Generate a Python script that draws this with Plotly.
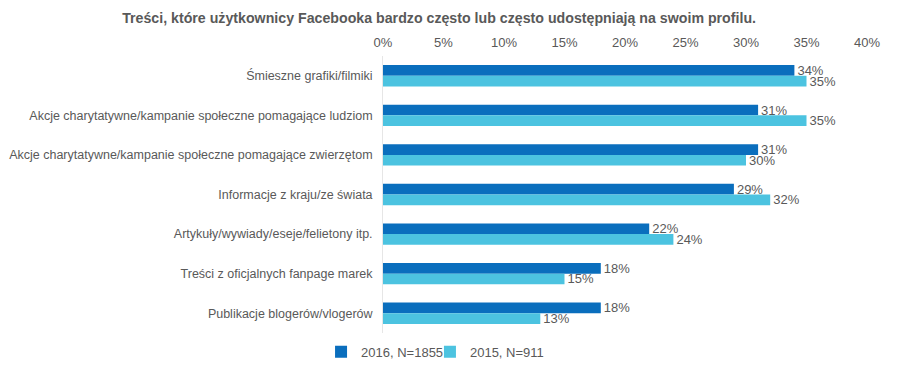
import plotly.graph_objects as go

categories = [
    "Śmieszne grafiki/filmiki",
    "Akcje charytatywne/kampanie społeczne pomagające ludziom",
    "Akcje charytatywne/kampanie społeczne pomagające zwierzętom",
    "Informacje z kraju/ze świata",
    "Artykuły/wywiady/eseje/felietony itp.",
    "Treści z oficjalnych fanpage marek",
    "Publikacje blogerów/vlogerów",
]
values_2016 = [34, 31, 31, 29, 22, 18, 18]
values_2015 = [35, 35, 30, 32, 24, 15, 13]
series_names = ["2016, N=1855", "2015, N=911"]
tick_vals = [0, 5, 10, 15, 20, 25, 30, 35, 40]
tick_text = [f"{v}%" for v in tick_vals]

FONT = "Liberation Sans, Arial, sans-serif"
GRAY = "#595959"

fig = go.Figure()
for name, vals, color, leg in [
    (series_names[0], values_2016, "#0A6EBD", "legend"),
    (series_names[1], values_2015, "#4CC3E0", "legend2"),
]:
    fig.add_trace(go.Bar(
        y=categories, x=vals, name=name, orientation="h",
        marker=dict(color=color, line=dict(width=0)),
        text=[f"{v}%" for v in vals], textposition="outside",
        constraintext="none",
        textfont=dict(family=FONT, size=13, color=GRAY),
        cliponaxis=False, legend=leg, showlegend=True,
    ))

legend_common = dict(
    orientation="h", y=-0.068, yanchor="middle", xanchor="left",
    itemwidth=30, font=dict(family=FONT, size=13, color=GRAY),
    bgcolor="rgba(0,0,0,0)",
)

fig.update_layout(
    width=900, height=367, showlegend=True,
    paper_bgcolor="white", plot_bgcolor="white",
    margin=dict(l=375, r=41, t=48, b=42, autoexpand=False),
    barmode="group", bargap=0.46, bargroupgap=0,
    font=dict(family=FONT, size=12.5, color=GRAY),
    title=dict(
        text="<b>Treści, które użytkownicy Facebooka bardzo często lub często udostępniają na swoim profilu.</b>",
        x=0.479, xanchor="center", y=0.973, yanchor="middle",
        font=dict(family=FONT, size=14.2, color=GRAY),
    ),
    xaxis=dict(
        side="top", range=[0, 40], tickvals=tick_vals, ticktext=tick_text,
        showgrid=False, zeroline=False, showline=False, ticks="",
        automargin=False, ticklabelstandoff=5,
        tickfont=dict(family=FONT, size=13, color=GRAY),
    ),
    yaxis=dict(
        autorange="reversed", showgrid=False, zeroline=False,
        showline=True, linecolor="#E6E6E6", linewidth=1, ticks="",
        automargin=False, ticksuffix="  ",
        tickfont=dict(family=FONT, size=12.5, color=GRAY),
    ),
    legend=dict(x=-0.128, **legend_common),
    legend2=dict(x=0.097, **legend_common),
)

fig.write_html("out.html")
